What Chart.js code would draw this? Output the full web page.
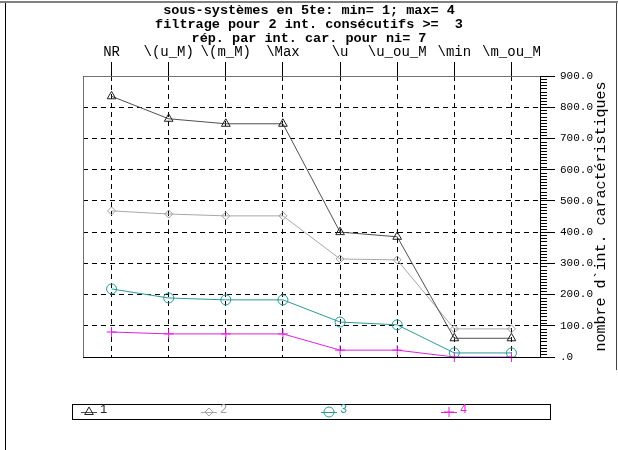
<!DOCTYPE html>
<html>
<head>
<meta charset="utf-8">
<script src="https://cdn.jsdelivr.net/npm/chart.js@4/dist/chart.umd.min.js"></script>
<style>
  html,body{margin:0;padding:0;background:#fff;}
  #wrap{width:618px;height:450px;position:relative;}
</style>
</head>
<body>
<div id="wrap"><canvas id="chart" width="618" height="450"></canvas></div>
<script>
// Data
const categories=['NR','\\(u_M)','\\(m_M)','\\Max','\\u','\\u_ou_M','\\min','\\m_ou_M'];
const serie1=[835,763,747,747,400,385,60,60];
const serie2=[468,458,452,452,314,311,90,90];
const serie3=[218,189,183,183,112,103,13,13];
const serie4=[80,74,74,74,22,22,0,0];
const seriesLabels=['1','2','3','4'];
const yMin=0, yMax=900, yStep=100, yMinorStep=10;
const titleLines=['sous-systèmes en 5te: min= 1; max= 4','filtrage pour 2 int. consécutifs >=  3','rép. par int. car. pour ni= 7'];
const yTitle='nombre d`int. caractéristiques';

const MONO='"Liberation Mono", "DejaVu Sans Mono", monospace';
const colors=['#505050','#a8a8a8','#2b9a9a','#e020e0'];
const markerColors=['#202020','#a0a0a0','#2b9a9a','#e020e0'];
const styles=['triangle','rectRot','circle','cross'];
const radii=[5,4,5,5];

// Extra drawing: title, frame, plot box, minor ticks, y title, legend
const decor={
  id:'decor',
  beforeDraw(chart){
    const c=chart.ctx;
    c.save();
    c.fillStyle='#fff';c.fillRect(0,0,chart.width,chart.height);
    c.restore();
  },
  afterDatasetsDraw(chart){
    const c=chart.ctx, a=chart.chartArea, y=chart.scales.y;
    c.save();
    // title
    c.fillStyle='#000';c.font='bold 13.5px '+MONO;
    c.textAlign='center';c.textBaseline='middle';
    titleLines.forEach((t,i)=>c.fillText(t,309,11+i*14));
    // outer frame
    c.strokeStyle='#808080';c.lineWidth=2;
    c.beginPath();c.moveTo(0,2);c.lineTo(618,2);c.stroke();
    c.strokeStyle='#000';c.lineWidth=1;
    c.beginPath();c.moveTo(5.5,3);c.lineTo(5.5,450);c.stroke();
    c.strokeStyle='#404040';
    c.beginPath();c.moveTo(616.5,3);c.lineTo(616.5,370);c.stroke();
    // plot box
    c.strokeStyle='#707070';
    c.beginPath();c.moveTo(a.left+0.5,a.bottom);c.lineTo(a.left+0.5,a.top+0.5);c.lineTo(a.right,a.top+0.5);c.stroke();
    c.strokeStyle='#000';
    c.beginPath();c.moveTo(a.left,a.bottom+0.5);c.lineTo(a.right+15,a.bottom+0.5);c.stroke();
    c.beginPath();c.moveTo(a.right+0.5,a.top);c.lineTo(a.right+0.5,a.bottom+1);c.stroke();
    // minor ticks
    for(let v=yMin;v<=yMax;v+=yMinorStep){
      if(v%yStep===0) continue;
      const py=Math.round(y.getPixelForValue(v))+0.5;
      c.beginPath();c.moveTo(a.right,py);c.lineTo(a.right+7,py);c.stroke();
    }
    // y title
    c.fillStyle='#000';c.font='15px '+MONO;
    c.translate(601,(a.top+a.bottom)/2);c.rotate(-Math.PI/2);
    c.textAlign='center';c.textBaseline='middle';
    c.fillText(yTitle,0,0);
    c.restore();

    // legend
    c.save();
    c.strokeStyle='#000';c.lineWidth=1;
    c.strokeRect(72.5,404.5,478,15);
    chart.data.datasets.forEach((ds,i)=>{
      const x0=81+i*120, ly=412;
      c.strokeStyle=ds.borderColor;c.lineWidth=1;
      c.beginPath();c.moveTo(x0,ly+0.5);c.lineTo(x0+16,ly+0.5);c.stroke();
      c.strokeStyle=ds.pointBorderColor;c.fillStyle='rgba(255,255,255,0)';
      Chart.helpers.drawPoint(c,{pointStyle:ds.pointStyle,radius:ds.pointRadius,borderWidth:1},x0+8,ly);
      c.fillStyle=ds.pointBorderColor;c.font='12px '+MONO;
      c.textAlign='left';c.textBaseline='alphabetic';
      c.fillText(ds.label,x0+19,ly+1);
    });
    c.restore();
  }
};

const seriesData=[serie1,serie2,serie3,serie4];
const datasets=seriesData.map((d,i)=>({
  label:seriesLabels[i],
  data:d,
  borderColor:colors[i],
  borderWidth:1,
  backgroundColor:'rgba(0,0,0,0)',
  pointStyle:styles[i],
  pointRadius:radii[i],
  pointBorderColor:markerColors[i],
  pointBorderWidth:1,
  pointBackgroundColor:'rgba(0,0,0,0)',
  tension:0,
  clip:false
}));

const ctx=document.getElementById('chart').getContext('2d');
new Chart(ctx,{
  type:'line',
  data:{labels:categories,datasets:datasets},
  options:{
    responsive:false,animation:false,
    layout:{padding:{left:83,right:0,top:45,bottom:93}},
    plugins:{
      legend:{display:false},
      tooltip:{enabled:false},
      title:{display:false}
    },
    scales:{
      x:{type:'category',position:'top',offset:true,
        afterFit(s){s.height=31;},
        grid:{offset:false,color:'#000',tickBorderDash:[],tickColor:'#000',tickLength:14,lineWidth:1},
        border:{display:false,dash:[5,4]},
        ticks:{color:'#000',padding:1,maxRotation:0,autoSkip:false,font:{family:MONO,size:14}}
      },
      y:{position:'right',min:yMin,max:yMax,
        afterFit(s){s.width=78;},
        grid:{color:'#000',tickBorderDash:[],tickColor:'#000',tickLength:15,lineWidth:1},
        border:{display:false,dash:[5,4]},
        ticks:{stepSize:yStep,color:'#000',padding:5,font:{family:MONO,size:11},
          callback:v=>v===0?'.0':v.toFixed(1)}
      }
    }
  },
  plugins:[decor]
});
</script>
</body>
</html>
